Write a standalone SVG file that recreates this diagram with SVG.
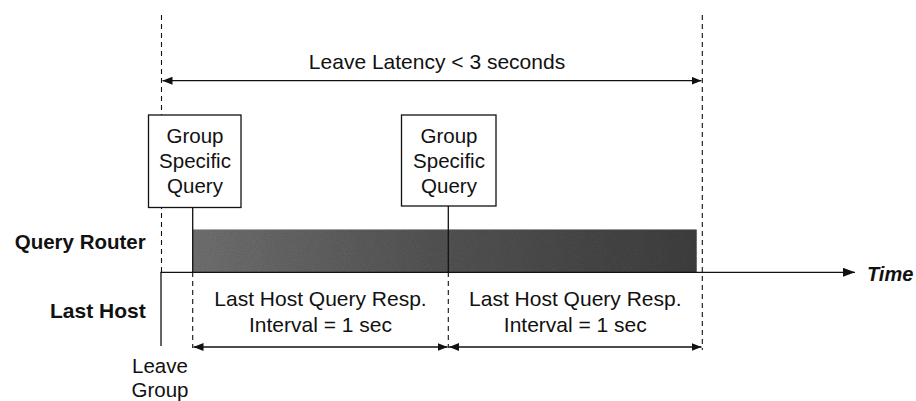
<svg xmlns="http://www.w3.org/2000/svg" width="916" height="401" viewBox="0 0 916 401">
  <style>
    .t { font-family: "Liberation Sans", Arial, sans-serif; font-size: 20.5px; fill: #111; }
    .c { text-anchor: middle; }
    .b { font-weight: bold; }
    .r { text-anchor: end; }
    .dash { stroke: #111; stroke-width: 1.1; stroke-dasharray: 5 4; fill: none; }
    .solid { stroke: #111; stroke-width: 1.3; fill: none; }
    .box { fill: #fff; stroke: #111; stroke-width: 1.3; }
  </style>
  <defs>
    <marker id="ah" viewBox="0 0 10 8" refX="10" refY="4" markerWidth="10" markerHeight="8" markerUnits="userSpaceOnUse" orient="auto-start-reverse">
      <path d="M0,0 L10,4 L0,8 Z" fill="#111"/>
    </marker>
    <marker id="ahT" viewBox="0 0 12 9" refX="12" refY="4.5" markerWidth="12" markerHeight="9" markerUnits="userSpaceOnUse" orient="auto">
      <path d="M0,0 L12,4.5 L0,9 Z" fill="#111"/>
    </marker>
    <linearGradient id="barg" x1="0" y1="0" x2="1" y2="0">
      <stop offset="0" stop-color="#767676"/>
      <stop offset="0.45" stop-color="#5a5a5a"/>
      <stop offset="1" stop-color="#434343"/>
    </linearGradient>
    <filter id="noise" x="0" y="0" width="1" height="1">
      <feTurbulence type="fractalNoise" baseFrequency="0.9" numOctaves="2" seed="3" result="n"/>
      <feColorMatrix in="n" type="matrix" values="0 0 0 0 0  0 0 0 0 0  0 0 0 0 0  0 0 0 0.35 0" result="na"/>
      <feComposite in="na" in2="SourceGraphic" operator="in" result="nc"/>
      <feMerge><feMergeNode in="SourceGraphic"/><feMergeNode in="nc"/></feMerge>
    </filter>
  </defs>

  <g id="bar">
    <rect x="192.7" y="229.5" width="504" height="42.5" fill="url(#barg)" filter="url(#noise)"/>
  </g>

  <g id="connectors">
    <!-- vertical dashed markers -->
    <line class="dash" x1="161.5" y1="15" x2="161.5" y2="272"/>
    <line class="dash" x1="702.3" y1="15" x2="702.3" y2="350"/>
    <line class="dash" x1="192.7" y1="272" x2="192.7" y2="348"/>
    <line class="dash" x1="448.3" y1="272" x2="448.3" y2="348"/>
    <!-- query lines from boxes -->
    <line class="solid" x1="192.7" y1="207" x2="192.7" y2="272"/>
    <line class="solid" x1="448.3" y1="206" x2="448.3" y2="272"/>
    <!-- leave group line -->
    <line class="solid" x1="161" y1="272.3" x2="161" y2="346"/>
    <!-- timeline -->
    <line class="solid" x1="160.4" y1="272.3" x2="855" y2="272.3" marker-end="url(#ahT)"/>
    <!-- latency arrow -->
    <line class="solid" x1="162.5" y1="80.7" x2="701.5" y2="80.7" marker-start="url(#ah)" marker-end="url(#ah)"/>
    <!-- interval arrows -->
    <line class="solid" x1="193.5" y1="347" x2="447.5" y2="347" marker-start="url(#ah)" marker-end="url(#ah)"/>
    <line class="solid" x1="449.1" y1="347" x2="701.5" y2="347" marker-start="url(#ah)" marker-end="url(#ah)"/>
  </g>

  <g id="query1">
    <rect class="box" x="148.5" y="115" width="92.5" height="92.5"/>
    <text class="t c" x="195" y="143">Group</text>
    <text class="t c" x="195" y="168">Specific</text>
    <text class="t c" x="195" y="193">Query</text>
  </g>

  <g id="query2">
    <rect class="box" x="401.5" y="115" width="94.5" height="91"/>
    <text class="t c" x="449" y="143">Group</text>
    <text class="t c" x="449" y="168">Specific</text>
    <text class="t c" x="449" y="193">Query</text>
  </g>

  <g id="latency">
    <text class="t c" x="437" y="69" style="font-size:21px">Leave Latency &lt; 3 seconds</text>
  </g>

  <g id="labels">
    <text class="t b r" x="145.7" y="249">Query Router</text>
    <text class="t b r" x="145.7" y="318" style="font-size:21px">Last Host</text>
    <text class="t b" x="867" y="280.5" style="font-style:italic;font-size:20px">Time</text>
  </g>

  <g id="leave">
    <text class="t c" x="160" y="372.5">Leave</text>
    <text class="t c" x="160" y="397">Group</text>
  </g>

  <g id="interval1">
    <text class="t c" x="320.5" y="305.5" style="font-size:21px">Last Host Query Resp.</text>
    <text class="t c" x="320.5" y="332" style="font-size:21px">Interval = 1 sec</text>
  </g>

  <g id="interval2">
    <text class="t c" x="575.3" y="305.5" style="font-size:21px">Last Host Query Resp.</text>
    <text class="t c" x="575.3" y="332" style="font-size:21px">Interval = 1 sec</text>
  </g>
</svg>
